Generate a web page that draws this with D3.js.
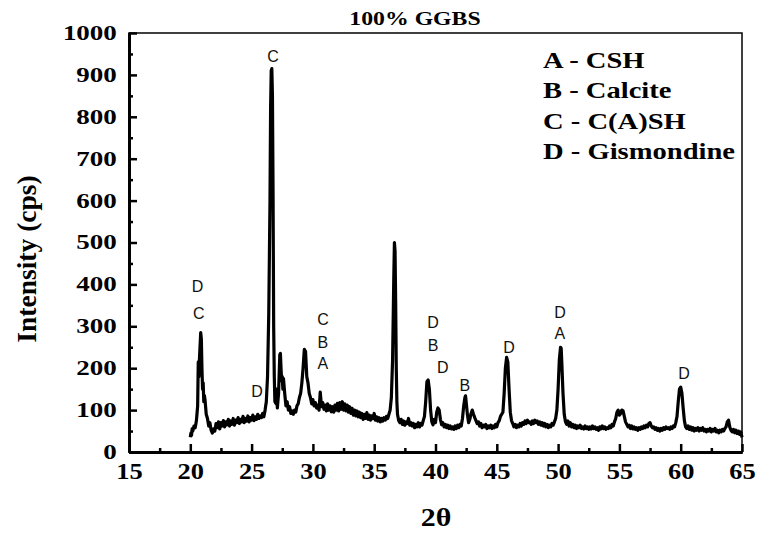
<!DOCTYPE html>
<html>
<head>
<meta charset="utf-8">
<script src="https://cdn.jsdelivr.net/npm/d3@7"></script>
<style>
  body { margin: 0; background: #fff; }
  svg { display: block; }
  .serif { font-family: "Liberation Serif", "Times New Roman", serif; font-weight: bold; fill: #000; }
  .peak { font-family: "Liberation Sans", Arial, sans-serif; font-size: 16px; fill: #111; }
</style>
</head>
<body>
<div id="chart"></div>
<script>
// XRD pattern, 100% GGBS  [2theta, intensity (cps)]
const pattern = [
  [20.00,35],[20.05,45],[20.10,40],[20.15,55],[20.20,50],[20.30,62],[20.40,58],[20.50,75],
  [20.60,110],[20.65,215],[20.70,180],[20.75,225],[20.85,285],[20.90,270],[20.95,200],[21.00,150],
  [21.05,165],[21.10,120],[21.15,135],[21.20,125],[21.30,90],[21.40,80],[21.50,62],[21.60,70],
  [21.70,52],[21.80,45],[21.90,55],[22.00,50],[22.10,68],[22.20,58],[22.30,72],[22.40,55],
  [22.50,70],[22.60,62],[22.70,75],[22.80,60],[22.90,72],[23.00,65],[23.10,78],[23.20,62],
  [23.30,74],[23.40,66],[23.50,80],[23.60,64],[23.70,76],[23.80,70],[23.90,82],[24.00,68],
  [24.10,78],[24.20,72],[24.30,85],[24.40,70],[24.50,80],[24.60,74],[24.70,86],[24.80,72],
  [24.90,82],[25.00,76],[25.10,88],[25.20,75],[25.30,84],[25.40,78],[25.50,90],[25.60,80],
  [25.70,86],[25.80,82],[25.90,92],[26.00,84],[26.10,100],[26.20,120],[26.30,180],[26.40,330],
  [26.50,600],[26.55,820],[26.60,910],[26.65,915],[26.70,850],[26.75,620],[26.80,300],[26.85,180],
  [26.90,120],[27.00,115],[27.05,150],[27.10,105],[27.20,140],[27.30,232],[27.35,235],[27.40,200],
  [27.45,170],[27.50,180],[27.55,150],[27.60,175],[27.70,140],[27.80,110],[27.90,120],[28.00,100],
  [28.10,108],[28.20,92],[28.30,98],[28.40,90],[28.50,100],[28.60,95],[28.70,110],[28.80,115],
  [28.90,130],[29.00,140],[29.10,165],[29.20,200],[29.30,245],[29.40,240],[29.45,210],[29.50,180],
  [29.60,165],[29.70,140],[29.80,130],[29.90,115],[30.00,125],[30.10,110],[30.20,118],[30.30,105],
  [30.40,112],[30.50,100],[30.60,143],[30.70,108],[30.80,118],[30.90,102],[31.00,112],[31.10,98],
  [31.20,115],[31.30,100],[31.40,110],[31.50,96],[31.60,108],[31.70,95],[31.80,112],[31.90,100],
  [32.00,116],[32.10,98],[32.20,118],[32.30,102],[32.40,120],[32.50,100],[32.60,115],[32.70,98],
  [32.80,112],[32.90,95],[33.00,108],[33.10,92],[33.20,104],[33.30,88],[33.40,100],[33.50,86],
  [33.60,98],[33.70,84],[33.80,95],[33.90,82],[34.00,92],[34.10,78],[34.20,90],[34.30,80],
  [34.40,94],[34.50,78],[34.60,88],[34.70,76],[34.80,86],[34.90,80],[35.00,92],[35.10,76],
  [35.20,84],[35.30,74],[35.40,82],[35.50,72],[35.60,80],[35.70,74],[35.80,82],[35.90,76],
  [36.00,85],[36.10,80],[36.20,90],[36.30,100],[36.40,130],[36.50,220],[36.60,420],[36.65,500],
  [36.70,480],[36.75,360],[36.80,200],[36.85,120],[36.90,90],[37.00,75],[37.10,70],[37.20,78],
  [37.30,66],[37.40,74],[37.50,64],[37.60,72],[37.70,68],[37.80,80],[37.90,64],[38.00,70],
  [38.10,62],[38.20,68],[38.30,58],[38.40,66],[38.50,60],[38.60,70],[38.70,60],[38.80,68],
  [38.90,64],[39.00,75],[39.10,85],[39.20,120],[39.30,168],[39.40,172],[39.50,150],[39.60,100],
  [39.70,72],[39.80,65],[39.90,78],[40.00,70],[40.10,95],[40.20,105],[40.30,100],[40.40,78],
  [40.50,65],[40.60,70],[40.70,60],[40.80,66],[40.90,58],[41.00,64],[41.10,56],[41.20,62],
  [41.30,55],[41.40,60],[41.50,54],[41.60,62],[41.70,56],[41.80,64],[41.90,58],[42.00,66],
  [42.10,62],[42.20,80],[42.30,110],[42.40,130],[42.45,134],[42.50,120],[42.60,90],[42.70,70],
  [42.80,78],[42.90,92],[43.00,100],[43.10,90],[43.20,82],[43.30,75],[43.40,68],[43.50,72],
  [43.60,62],[43.70,68],[43.80,58],[43.90,64],[44.00,60],[44.10,66],[44.20,56],[44.30,62],
  [44.40,58],[44.50,64],[44.60,56],[44.70,62],[44.80,58],[44.90,66],[45.00,60],[45.10,70],
  [45.20,75],[45.30,85],[45.40,90],[45.50,95],[45.60,140],[45.70,200],[45.80,226],[45.90,215],
  [46.00,150],[46.10,95],[46.20,75],[46.30,68],[46.40,60],[46.50,66],[46.60,58],[46.70,64],
  [46.80,60],[46.90,68],[47.00,62],[47.10,70],[47.20,66],[47.30,74],[47.40,68],[47.50,76],
  [47.60,70],[47.70,72],[47.80,66],[47.90,74],[48.00,68],[48.10,76],[48.20,70],[48.30,74],
  [48.40,66],[48.50,72],[48.60,64],[48.70,70],[48.80,62],[48.90,68],[49.00,60],[49.10,66],
  [49.20,58],[49.30,64],[49.40,60],[49.50,68],[49.60,64],[49.70,72],[49.80,80],[49.90,100],
  [50.00,150],[50.10,220],[50.20,250],[50.25,248],[50.30,215],[50.40,140],[50.50,90],[50.60,72],
  [50.70,66],[50.80,74],[50.90,62],[51.00,70],[51.10,60],[51.20,66],[51.30,58],[51.40,64],
  [51.50,56],[51.60,62],[51.70,58],[51.80,64],[51.90,56],[52.00,60],[52.10,55],[52.20,62],
  [52.30,56],[52.40,60],[52.50,54],[52.60,60],[52.70,55],[52.80,62],[52.90,56],[53.00,60],
  [53.10,54],[53.20,58],[53.30,52],[53.40,60],[53.50,55],[53.60,62],[53.70,56],[53.80,60],
  [53.90,54],[54.00,58],[54.10,56],[54.20,62],[54.30,58],[54.40,66],[54.50,62],[54.60,72],
  [54.70,80],[54.80,95],[54.90,100],[55.00,88],[55.10,92],[55.20,100],[55.30,98],[55.40,85],
  [55.50,72],[55.60,66],[55.70,60],[55.80,64],[55.90,56],[56.00,62],[56.10,55],[56.20,60],
  [56.30,54],[56.40,58],[56.50,52],[56.60,58],[56.70,54],[56.80,60],[56.90,56],[57.00,62],
  [57.10,58],[57.20,64],[57.30,60],[57.40,68],[57.50,70],[57.60,62],[57.70,58],[57.80,60],
  [57.90,54],[58.00,58],[58.10,52],[58.20,56],[58.30,50],[58.40,56],[58.50,52],[58.60,58],
  [58.70,54],[58.80,60],[58.90,56],[59.00,58],[59.10,54],[59.20,60],[59.30,56],[59.40,62],
  [59.50,60],[59.60,70],[59.70,85],[59.80,120],[59.90,150],[60.00,155],[60.10,140],[60.20,105],
  [60.30,75],[60.40,60],[60.50,56],[60.60,62],[60.70,54],[60.80,60],[60.90,52],[61.00,58],
  [61.10,50],[61.20,56],[61.30,52],[61.40,58],[61.50,50],[61.60,56],[61.70,52],[61.80,58],
  [61.90,50],[62.00,54],[62.10,48],[62.20,54],[62.30,50],[62.40,56],[62.50,48],[62.60,54],
  [62.70,50],[62.80,56],[62.90,48],[63.00,52],[63.10,46],[63.20,52],[63.30,48],[63.40,54],
  [63.50,50],[63.60,56],[63.70,60],[63.80,72],[63.90,76],[64.00,60],[64.10,52],[64.20,48],
  [64.30,54],[64.40,46],[64.50,52],[64.60,44],[64.70,50],[64.80,42],[64.90,48],[65.00,35]
];

// peak annotations: [2theta, intensity where the letter sits, letter]
const peakLabels = [
  [26.75, 931, "C"],
  [20.6, 382, "D"], [20.7, 317, "C"],
  [25.44, 131, "D"],
  [30.82, 303, "C"], [30.82, 248, "B"], [30.82, 198, "A"],
  [39.8, 296, "D"], [39.8, 241, "B"],
  [40.6, 189, "D"],
  [42.4, 146, "B"],
  [46.0, 236, "D"],
  [50.15, 320, "D"], [50.15, 270, "A"],
  [60.27, 174, "D"]
];

const legendItems = ["A - CSH", "B - Calcite", "C - C(A)SH", "D - Gismondine"];
const xTicks = [15, 20, 25, 30, 35, 40, 45, 50, 55, 60, 65];
const xMinor = [17.5, 22.5, 27.5, 32.5, 37.5, 42.5, 47.5, 52.5, 57.5, 62.5];
const yTicks = [0, 100, 200, 300, 400, 500, 600, 700, 800, 900, 1000];
const yMinor = [50, 150, 250, 350, 450, 550, 650, 750, 850, 950];

const width = 760;
const height = 533;
const margin = { top: 33, right: 18, bottom: 81, left: 129 };

const x = d3.scaleLinear().domain([15, 65]).range([margin.left, width - margin.right]);
const y = d3.scaleLinear().domain([0, 1000]).range([height - margin.bottom, margin.top]);

const svg = d3.select("#chart").append("svg")
  .attr("width", width)
  .attr("height", height);

// frame (top and right thinner)
svg.append("rect")
  .attr("x", x(15)).attr("y", y(1000))
  .attr("width", x(65) - x(15)).attr("height", y(0) - y(1000))
  .attr("fill", "none").attr("stroke", "#000").attr("stroke-width", 1.5);

// pattern
const line = d3.line().x(d => x(d[0])).y(d => y(d[1]));
svg.append("path")
  .datum(pattern)
  .attr("d", line)
  .attr("fill", "none")
  .attr("stroke", "#000")
  .attr("stroke-width", 3.2)
  .attr("stroke-linejoin", "round");

// axes, ticks pointing in
const xAxis = svg.append("g")
  .attr("transform", `translate(0,${y(0)})`)
  .call(d3.axisBottom(x).tickValues(xTicks).tickSize(-8).tickSizeOuter(0).tickPadding(11)
    .tickFormat(d3.format("d")));
svg.append("g")
  .attr("transform", `translate(0,${y(0)})`)
  .call(d3.axisBottom(x).tickValues(xMinor).tickSize(-4).tickSizeOuter(0).tickFormat(""));

const yAxis = svg.append("g")
  .attr("transform", `translate(${x(15)},0)`)
  .call(d3.axisLeft(y).tickValues(yTicks).tickSize(-8).tickSizeOuter(0).tickPadding(9)
    .tickFormat(d3.format("d")));
svg.append("g")
  .attr("transform", `translate(${x(15)},0)`)
  .call(d3.axisLeft(y).tickValues(yMinor).tickSize(-4).tickSizeOuter(0).tickFormat(""));

svg.selectAll(".domain").attr("stroke", "#000").attr("stroke-width", 3);
svg.selectAll(".tick line").attr("stroke", "#000").attr("stroke-width", 2.5);

xAxis.selectAll(".tick text")
  .attr("class", "serif")
  .style("font-size", "23px")
  .attr("transform", "scale(1.15,1)");

yAxis.selectAll(".tick text")
  .attr("class", "serif")
  .style("font-size", "20px")
  .attr("transform", "scale(1.35,1)");

// axis titles
svg.append("text")
  .attr("class", "serif")
  .attr("transform", "translate(36,259) rotate(-90)")
  .attr("text-anchor", "middle")
  .style("font-size", "27.5px")
  .text("Intensity (cps)");

svg.append("text")
  .attr("class", "serif")
  .attr("transform", "translate(436,526) scale(1.15,1)")
  .attr("text-anchor", "middle")
  .style("font-size", "26px")
  .text("2θ");

svg.append("text")
  .attr("class", "serif")
  .attr("transform", "translate(415,25) scale(1.25,1)")
  .attr("text-anchor", "middle")
  .style("font-size", "19px")
  .text("100% GGBS");

// legend
svg.append("g").selectAll("text")
  .data(legendItems)
  .enter().append("text")
  .attr("class", "serif")
  .attr("transform", (d, i) => `translate(543,${68 + i * 30.3}) scale(1.27,1)`)
  .style("font-size", "22.5px")
  .text(d => d);

// peak letters
svg.append("g").selectAll("text")
  .data(peakLabels)
  .enter().append("text")
  .attr("class", "peak")
  .attr("x", d => x(d[0]))
  .attr("y", d => y(d[1]))
  .attr("text-anchor", "middle")
  .text(d => d[2]);
</script>
</body>
</html>
